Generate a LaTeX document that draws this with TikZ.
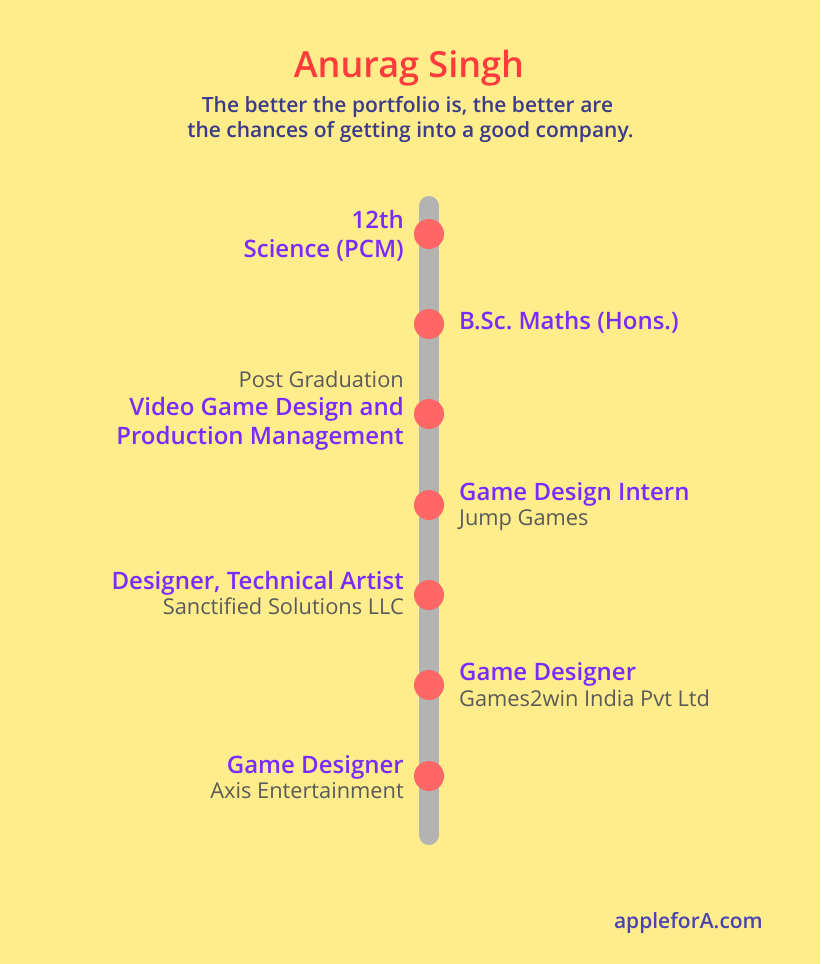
\documentclass[tikz,border=0pt]{standalone}
\usepackage{fontspec}
\setmainfont{Open Sans}
\newfontfamily\semib{Open Sans Semibold}
\frenchspacing
\definecolor{bgyellow}{HTML}{FFEC8B}
\definecolor{titlered}{HTML}{FF3B3B}
\definecolor{subblue}{HTML}{3B3B8C}
\definecolor{labpurple}{HTML}{7A2BFF}
\definecolor{labgray}{HTML}{5A5A5A}
\definecolor{linegray}{HTML}{B3B3B3}
\definecolor{dotred}{HTML}{FF6666}
\definecolor{footblue}{HTML}{4A44B0}
\tikzset{
  head/.style={inner sep=0pt, text=labpurple, font=\semib\fontsize{24}{28}\selectfont},
  sub/.style={inner sep=0pt, text=labgray, font=\fontsize{21.8}{25}\selectfont},
  lft/.style={anchor=base east},
  rgt/.style={anchor=base west},
  dot/.style={circle, fill=dotred, minimum size=30pt, inner sep=0pt}
}
\begin{document}
\begin{tikzpicture}[x=1pt,y=-1pt]
\fill[bgyellow] (0,0) rectangle (820,964);
\useasboundingbox (0,0) rectangle (820,964);
\node[anchor=base, inner sep=0pt, text=titlered, font=\semib\fontsize{36}{40}\selectfont] (title) at (409,77) {Anurag Singh};
\node[anchor=base, inner sep=0pt, text=subblue, font=\semib\fontsize{21}{24}\selectfont] (sub1) at (407.5,112) {The better the portfolio is, the better are};
\node[anchor=base, inner sep=0pt, text=subblue, font=\semib\fontsize{21}{24}\selectfont] (sub2) at (410.5,137) {the chances of getting into a good company.};
\coordinate (ltop) at (429,206);
\coordinate (lbot) at (429,835);
\draw[linegray, line width=20pt, line cap=round] (ltop) -- (lbot);
\node[dot] (d1) at (429,234) {};
\node[dot] (d2) at (429,324) {};
\node[dot] (d3) at (429,414) {};
\node[dot] (d4) at (429,505) {};
\node[dot] (d5) at (429,595) {};
\node[dot] (d6) at (429,685) {};
\node[dot] (d7) at (429,776) {};
% 1
\node[head,lft] (t1a) at (404,228) {12th};
\node[head,lft] (t1b) at (404,257) {Science (PCM)};
% 2
\node[head,rgt] (t2a) at (459,329) {B.Sc. Maths (Hons.)};
% 3
\node[sub,lft] (t3a) at (404,387) {Post Graduation};
\node[head,lft] (t3b) at (404,415) {Video Game Design and};
\node[head,lft] (t3c) at (404,444) {Production Management};
% 4
\node[head,rgt] (t4a) at (459,500) {Game Design Intern};
\node[sub,rgt] (t4b) at (459,525) {Jump Games};
% 5
\node[head,lft] (t5a) at (404,589) {Designer, Technical Artist};
\node[sub,lft] (t5b) at (404,614) {Sanctified Solutions LLC};
% 6
\node[head,rgt] (t6a) at (459,680) {Game Designer};
\node[sub,rgt] (t6b) at (459,706) {Games2win India Pvt Ltd};
% 7
\node[head,lft] (t7a) at (404,773) {Game Designer};
\node[sub,lft] (t7b) at (404,798) {Axis Entertainment};
% footer
\node[anchor=base east, inner sep=0pt, text=footblue, font=\semib\fontsize{21}{24}\selectfont] (foot) at (763,928) {appleforA.com};
\end{tikzpicture}
\end{document}
